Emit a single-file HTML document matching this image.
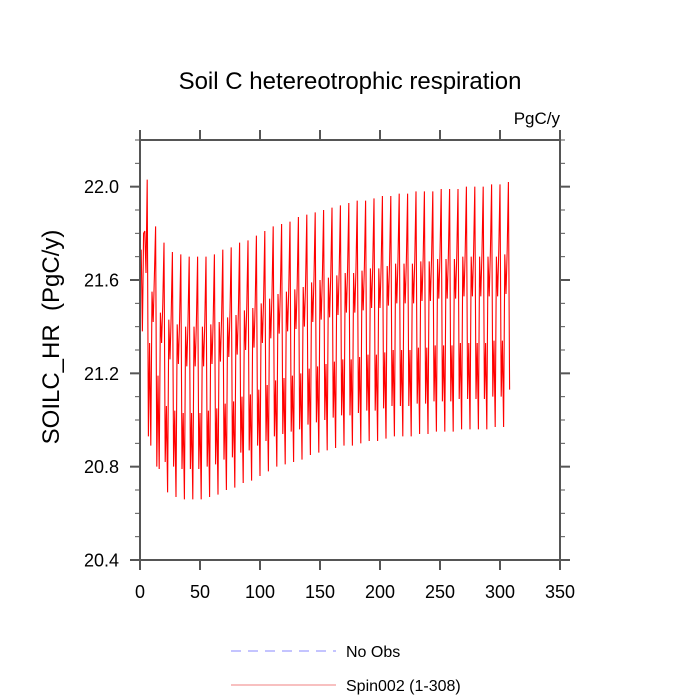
<!DOCTYPE html>
<html><head><meta charset="utf-8"><style>
body{margin:0;background:#fff;}
svg{display:block;font-family:"Liberation Sans",Arial,sans-serif;}
</style></head><body>
<svg id="chart" width="700" height="700" viewBox="0 0 700 700">
<text x="350" y="89" font-size="24" text-anchor="middle">Soil C hetereotrophic respiration</text>
<text x="560" y="124" font-size="17" text-anchor="end">PgC/y</text>
<text transform="translate(59,337) rotate(-90)" font-size="24" text-anchor="middle">SOILC_HR&#160;&#160;(PgC/y)</text>
<g id="axes"></g>
<g id="series"></g>
<rect x="140" y="140" width="420" height="420" fill="none" stroke="#555" stroke-width="2"/>
<g>
<line x1="231" y1="651" x2="336" y2="651" stroke="#8888ff" stroke-width="1" stroke-dasharray="10,7"/>
<text x="346" y="657" font-size="16">No Obs</text>
<line x1="231" y1="685" x2="336" y2="685" stroke="#f08080" stroke-width="1"/>
<text x="346" y="691" font-size="16">Spin002 (1-308)</text>
</g>
</svg>
<script>
const xTicks = [0,50,100,150,200,250,300,350];
const yTicks = [20.4,20.8,21.2,21.6,22.0];
const yTickLabels = ["20.4","20.8","21.2","21.6","22.0"];
const yMinor = [20.5,20.6,20.7,20.9,21.0,21.1,21.3,21.4,21.5,21.7,21.8,21.9,22.1,22.2];
const series = [
21.73,21.38,21.80,21.81,21.63,
22.03,20.93,21.33,20.89,21.55,21.42,21.62,
21.83,20.80,21.19,20.79,21.46,21.33,21.50,
21.76,20.82,21.06,20.69,21.43,21.26,21.45,
21.72,20.80,21.04,20.67,21.41,21.24,21.43,
21.71,20.79,21.03,20.66,21.40,21.23,21.42,
21.70,20.79,21.03,20.66,21.40,21.23,21.42,
21.70,20.79,21.03,20.66,21.40,21.23,21.42,
21.70,20.80,21.04,20.67,21.41,21.24,21.43,
21.71,20.81,21.05,20.68,21.42,21.25,21.44,
21.73,20.83,21.07,20.70,21.44,21.27,21.46,
21.74,20.84,21.08,20.71,21.45,21.28,21.47,
21.76,20.86,21.10,20.73,21.47,21.30,21.49,
21.77,20.87,21.11,20.74,21.48,21.31,21.50,
21.79,20.89,21.13,20.76,21.50,21.33,21.52,
21.81,20.91,21.15,20.78,21.52,21.35,21.54,
21.83,20.93,21.17,20.80,21.54,21.37,21.56,
21.84,20.94,21.18,20.81,21.55,21.38,21.57,
21.85,20.95,21.19,20.82,21.56,21.39,21.58,
21.87,20.96,21.20,20.83,21.57,21.40,21.59,
21.88,20.98,21.22,20.85,21.59,21.42,21.61,
21.89,20.99,21.23,20.86,21.60,21.43,21.62,
21.90,21.00,21.24,20.87,21.61,21.44,21.63,
21.91,21.01,21.25,20.88,21.62,21.45,21.64,
21.92,21.02,21.26,20.89,21.63,21.46,21.65,
21.93,21.02,21.26,20.89,21.63,21.46,21.65,
21.94,21.03,21.27,20.90,21.64,21.47,21.66,
21.94,21.04,21.28,20.91,21.65,21.48,21.67,
21.95,21.04,21.28,20.91,21.65,21.48,21.67,
21.96,21.05,21.29,20.92,21.66,21.49,21.68,
21.96,21.06,21.30,20.93,21.67,21.50,21.69,
21.97,21.06,21.30,20.93,21.67,21.50,21.69,
21.97,21.06,21.30,20.93,21.67,21.50,21.69,
21.98,21.07,21.31,20.94,21.68,21.51,21.70,
21.98,21.07,21.31,20.94,21.68,21.51,21.70,
21.98,21.08,21.32,20.95,21.69,21.52,21.71,
21.99,21.08,21.32,20.95,21.69,21.52,21.71,
21.99,21.08,21.32,20.95,21.69,21.52,21.71,
21.99,21.09,21.33,20.96,21.70,21.53,21.72,
22.00,21.09,21.33,20.96,21.70,21.53,21.72,
22.00,21.09,21.33,20.96,21.70,21.53,21.72,
22.00,21.09,21.33,20.96,21.70,21.53,21.72,
22.01,21.10,21.34,20.97,21.70,21.53,21.73,
22.01,21.10,21.34,20.97,21.71,21.54,21.73,
22.02,21.13
];
const NS = "http://www.w3.org/2000/svg";
const X0 = 140, X1 = 560, Y0 = 560, Y1 = 140;
function xs(v){ return X0 + (v - 0) / 350 * (X1 - X0); }
function ys(v){ return Y0 - (v - 20.4) / 1.8 * (Y0 - Y1); }
function mk(tag, attrs, parent){
  const e = document.createElementNS(NS, tag);
  for (const k in attrs) e.setAttribute(k, attrs[k]);
  parent.appendChild(e);
  return e;
}
const axes = document.getElementById('axes');
const st = {stroke:"#555","stroke-width":2};
xTicks.forEach(function(v){
  const x = xs(v);
  const b = mk('line', Object.assign({x1:x,y1:560,x2:x,y2:570}, st), axes);
  
  
  const t = mk('line', Object.assign({x1:x,y1:140,x2:x,y2:130}, st), axes);
  
  
  const l = mk('text', {x:x, y:598, "font-size":18, "text-anchor":"middle"}, axes);
  l.textContent = String(v);
  
  
});
yTicks.forEach(function(v, i){
  const y = ys(v);
  const a = mk('line', Object.assign({x1:130,y1:y,x2:140,y2:y}, st), axes);
  
  
  const b = mk('line', Object.assign({x1:560,y1:y,x2:570,y2:y}, st), axes);
  
  
  const l = mk('text', {x:119, y:y+6.5, "font-size":18, "text-anchor":"end"}, axes);
  l.textContent = yTickLabels[i];
  
  
});
yMinor.forEach(function(v){
  const y = ys(v);
  const a = mk('line', {x1:135,y1:y,x2:140,y2:y,stroke:"#555","stroke-width":1}, axes);
  
  
  const b = mk('line', {x1:560,y1:y,x2:565,y2:y,stroke:"#555","stroke-width":1}, axes);
  
  
});
const pts = series.map(function(v, i){ return xs(i + 1).toFixed(2) + ',' + ys(v).toFixed(2); }).join(' ');
const line = mk('polyline', {points:pts, fill:"none", stroke:"#ff0000", "stroke-width":1.1, "stroke-linejoin":"miter"}, document.getElementById('series'));


</script>
</body></html>
